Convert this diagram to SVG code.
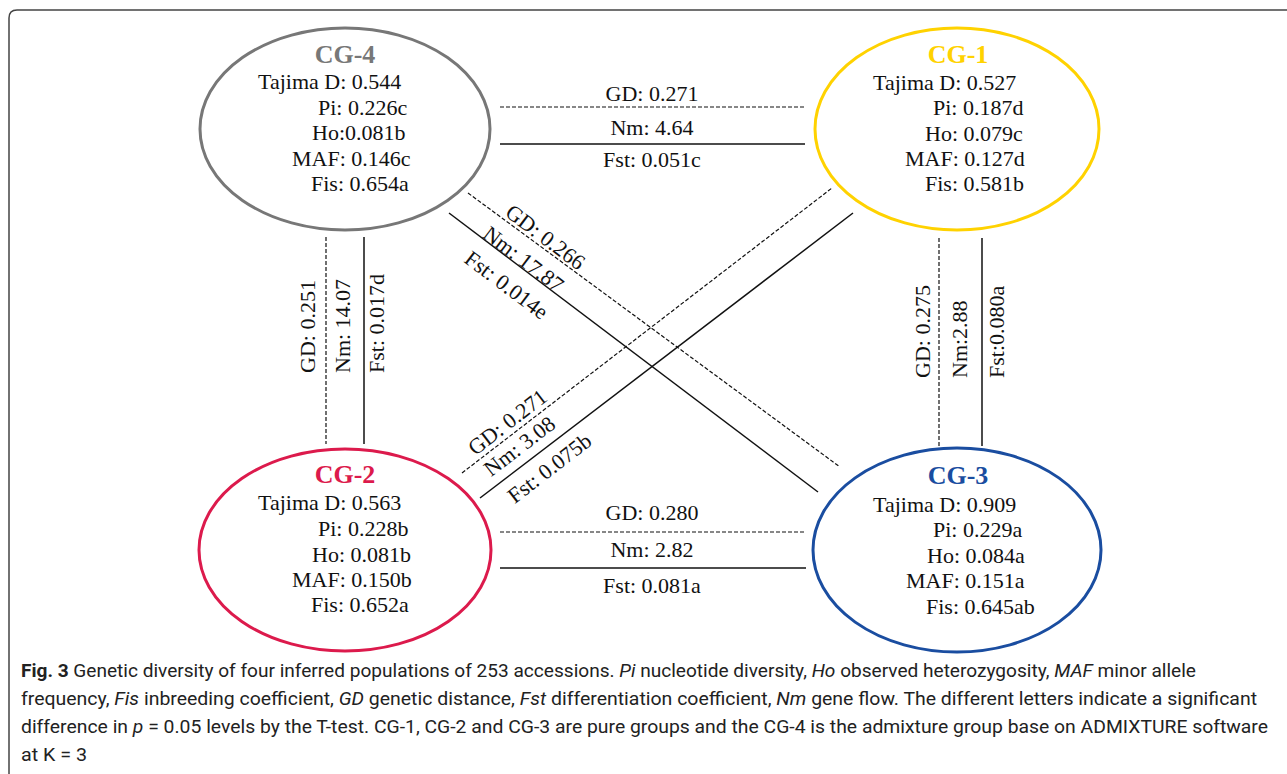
<svg xmlns="http://www.w3.org/2000/svg" width="1287" height="774" viewBox="0 0 1287 774">
<style>
.t{font-family:"Liberation Serif","Times New Roman",serif;font-size:22px;fill:#111}
.ttl{font-family:"Liberation Serif","Times New Roman",serif;font-size:26px;font-weight:bold;text-anchor:middle}
.ell{fill:none;stroke-width:3}
.sol{stroke:#111;stroke-width:1.5;fill:none}
.dsh{stroke:#111;stroke-width:1.2;stroke-dasharray:4 2;fill:none}
.lb{font-family:"Liberation Serif","Times New Roman",serif;font-size:22px;fill:#111}
.m{text-anchor:middle}
.cap{font-family:Roboto,"Liberation Sans",sans-serif;font-size:17.5px;fill:#222}
</style>
<rect width="1287" height="774" fill="#fff"/>
<path d="M 9 774 V 18 Q 9 10 17 10 H 1287" fill="none" stroke="#444" stroke-width="1.5"/>

<g id="connectors">
  <line class="dsh" x1="500" y1="107" x2="805" y2="107"/>
  <line class="sol" x1="500" y1="144" x2="805" y2="144"/>
  <line class="dsh" x1="500" y1="532" x2="805" y2="532"/>
  <line class="sol" x1="500" y1="568" x2="806" y2="568"/>
  <line class="dsh" x1="326" y1="237" x2="326" y2="444"/>
  <line class="sol" x1="364" y1="237" x2="364" y2="444"/>
  <line class="dsh" x1="939" y1="238" x2="939" y2="447"/>
  <line class="sol" x1="982" y1="238" x2="982" y2="446"/>
  <line class="dsh" x1="468" y1="193" x2="840" y2="467"/>
  <line class="sol" x1="449" y1="213" x2="818" y2="492"/>
  <line class="dsh" x1="462" y1="473" x2="832" y2="188"/>
  <line class="sol" x1="480" y1="498" x2="853" y2="213"/>

  <text class="lb m" x="652" y="101">GD: 0.271</text>
  <text class="lb m" x="652" y="135">Nm: 4.64</text>
  <text class="lb m" x="652" y="167">Fst: 0.051c</text>
  <text class="lb m" x="652" y="520">GD: 0.280</text>
  <text class="lb m" x="652" y="557">Nm: 2.82</text>
  <text class="lb m" x="652" y="593">Fst: 0.081a</text>

  <text class="lb" transform="translate(315,373) rotate(-90)">GD: 0.251</text>
  <text class="lb" transform="translate(350,373) rotate(-90)">Nm: 14.07</text>
  <text class="lb" transform="translate(384,373) rotate(-90)">Fst: 0.017d</text>
  <text class="lb" transform="translate(930,378) rotate(-90)">GD: 0.275</text>
  <text class="lb" transform="translate(967,378) rotate(-90)">Nm:2.88</text>
  <text class="lb" transform="translate(1004,378) rotate(-90)">Fst:0.080a</text>

  <text class="lb m" transform="translate(541,243) rotate(37)">GD: 0.266</text>
  <text class="lb m" transform="translate(519,265) rotate(37)">Nm: 17.87</text>
  <text class="lb m" transform="translate(502,291) rotate(37)">Fst: 0.014e</text>
  <text class="lb m" transform="translate(512,428) rotate(-37.5)">GD: 0.271</text>
  <text class="lb m" transform="translate(524,452) rotate(-37.5)">Nm: 3.08</text>
  <text class="lb m" transform="translate(554,474) rotate(-37.5)">Fst: 0.075b</text>
</g>

<g id="CG-4">
  <ellipse class="ell" cx="345" cy="129" rx="145" ry="101" stroke="#777"/>
  <text class="ttl" x="345" y="63" fill="#777">CG-4</text>
  <text class="t" x="258" y="89">Tajima D: 0.544</text>
  <text class="t" x="318" y="115">Pi: 0.226c</text>
  <text class="t" x="312" y="140">Ho:0.081b</text>
  <text class="t" x="292" y="166">MAF: 0.146c</text>
  <text class="t" x="311" y="191">Fis: 0.654a</text>
</g>

<g id="CG-1">
  <ellipse class="ell" cx="957" cy="129" rx="142" ry="101" stroke="#FFD200"/>
  <text class="ttl" x="958" y="63" fill="#FFD200">CG-1</text>
  <text class="t" x="873" y="90">Tajima D: 0.527</text>
  <text class="t" x="933" y="115">Pi: 0.187d</text>
  <text class="t" x="925" y="141">Ho: 0.079c</text>
  <text class="t" x="905" y="166">MAF: 0.127d</text>
  <text class="t" x="925" y="191">Fis: 0.581b</text>
</g>

<g id="CG-2">
  <ellipse class="ell" cx="345" cy="550" rx="146" ry="101" stroke="#DC1A4C"/>
  <text class="ttl" x="345" y="483" fill="#DC1A4C">CG-2</text>
  <text class="t" x="258" y="510">Tajima D: 0.563</text>
  <text class="t" x="318" y="536">Pi: 0.228b</text>
  <text class="t" x="312" y="562">Ho: 0.081b</text>
  <text class="t" x="292" y="587">MAF: 0.150b</text>
  <text class="t" x="311" y="612">Fis: 0.652a</text>
</g>

<g id="CG-3">
  <ellipse class="ell" cx="957" cy="550" rx="144" ry="102" stroke="#1A4DA0"/>
  <text class="ttl" x="958" y="484" fill="#1A4DA0">CG-3</text>
  <text class="t" x="873" y="512">Tajima D: 0.909</text>
  <text class="t" x="933" y="537">Pi: 0.229a</text>
  <text class="t" x="927" y="563">Ho: 0.084a</text>
  <text class="t" x="906" y="588">MAF: 0.151a</text>
  <text class="t" x="926" y="614">Fis: 0.645ab</text>
</g>

<g id="caption">
  <text class="cap" x="21" y="677" textLength="1175" lengthAdjust="spacingAndGlyphs"><tspan font-weight="bold">Fig. 3</tspan>  Genetic diversity of four inferred populations of 253 accessions. <tspan font-style="italic">Pi</tspan> nucleotide diversity, <tspan font-style="italic">Ho</tspan> observed heterozygosity, <tspan font-style="italic">MAF</tspan> minor allele</text>
  <text class="cap" x="21" y="705" textLength="1236" lengthAdjust="spacingAndGlyphs">frequency, <tspan font-style="italic">Fis</tspan> inbreeding coefficient, <tspan font-style="italic">GD</tspan> genetic distance, <tspan font-style="italic">Fst</tspan> differentiation coefficient, <tspan font-style="italic">Nm</tspan> gene flow. The different letters indicate a significant</text>
  <text class="cap" x="21" y="733" textLength="1247" lengthAdjust="spacingAndGlyphs">difference in <tspan font-style="italic">p</tspan> = 0.05 levels by the T-test. CG-1, CG-2 and CG-3 are pure groups and the CG-4 is the admixture group base on ADMIXTURE software</text>
  <text class="cap" x="21" y="761" textLength="66" lengthAdjust="spacingAndGlyphs">at K = 3</text>
</g>
</svg>
